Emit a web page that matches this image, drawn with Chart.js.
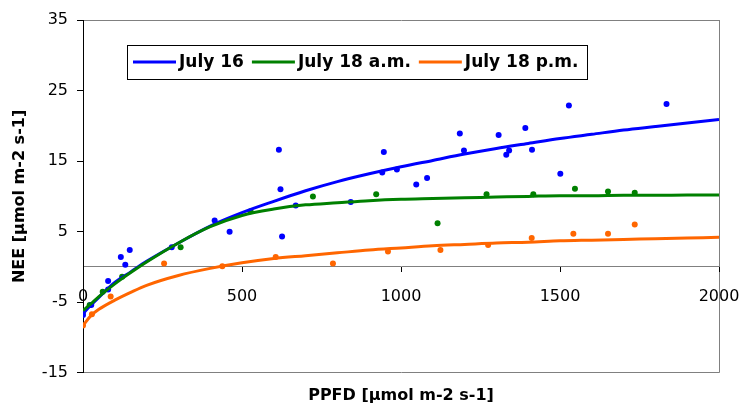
<!DOCTYPE html>
<html>
<head>
<meta charset="utf-8">
<script src="https://cdn.jsdelivr.net/npm/chart.js@4/dist/chart.umd.min.js"></script>
<style>
    body { margin: 0; background: #FFFFFF; }
    #wrap { width: 741px; height: 408px; position: relative; }
</style>
</head>
<body>
<div id="wrap"><canvas id="neeChart"></canvas></div>
<script>
// ===================================
// DATA
// ===================================

const seriesLabels = ['July 16', 'July 18 a.m.', 'July 18 p.m.'];
const seriesColors = ['#0000FF', '#008000', '#FF6600'];

// measured points
const ppfd16 = [0, 26, 79, 79, 119, 133, 147, 279, 414, 461, 616, 621, 626, 669, 842, 941, 946, 987, 1048, 1082, 1185, 1198, 1307, 1331, 1340, 1391, 1412, 1501, 1528, 1835];
const nee16 = [-6.8, -5.4, -2.0, -3.2, 1.4, 0.3, 2.4, 2.8, 6.6, 5.0, 16.6, 11.0, 4.3, 8.7, 9.2, 13.4, 16.3, 13.8, 11.7, 12.6, 18.9, 16.5, 18.7, 15.9, 16.5, 19.7, 16.6, 13.2, 22.9, 23.1];

const ppfd18am = [0, 21, 62, 123, 307, 527, 723, 922, 1115, 1269, 1416, 1547, 1651, 1735];
const nee18am = [-6.4, -5.4, -3.5, -1.4, 2.8, 7.9, 10.0, 10.3, 6.2, 10.3, 10.3, 11.1, 10.7, 10.5];

const ppfd18pm = [0, 28, 87, 255, 438, 606, 786, 959, 1124, 1274, 1411, 1542, 1651, 1735];
const nee18pm = [-8.3, -6.7, -4.2, 0.5, 0.1, 1.4, 0.5, 2.2, 2.4, 3.1, 4.1, 4.7, 4.7, 6.0];

// fitted light response curves
const fitPpfd = [0, 25, 50, 100, 150, 200, 300, 400, 500, 600, 700, 800, 900, 1000, 1100, 1200, 1300, 1400, 1500, 1600, 1700, 1800, 1900, 2000];
const fit16 = [-6.6, -5.4, -4.3, -2.2, -0.7, 0.8, 3.4, 5.8, 7.7, 9.3, 10.8, 12.1, 13.2, 14.2, 15.1, 16.0, 16.8, 17.5, 18.2, 18.8, 19.4, 19.9, 20.4, 20.9];
const fit18am = [-6.2, -5.2, -4.2, -2.4, -0.8, 0.7, 3.4, 5.7, 7.3, 8.2, 8.8, 9.1, 9.4, 9.6, 9.7, 9.8, 9.9, 10.0, 10.1, 10.1, 10.15, 10.15, 10.2, 10.2];
const fit18pm = [-8.3, -6.9, -6.0, -4.7, -3.6, -2.6, -1.2, -0.2, 0.6, 1.2, 1.6, 2.0, 2.4, 2.7, 3.0, 3.2, 3.4, 3.5, 3.7, 3.8, 3.9, 4.0, 4.1, 4.2];

const xTicks = [0, 500, 1000, 1500, 2000];
const yTicks = [-15, -5, 5, 15, 25, 35];

const frameGray = '#808080';
const fontFamily = 'DejaVu Sans';

// ===================================
// HELPERS
// ===================================

/**
 * Zip two arrays into {x, y} points
 */
function toPoints(xs, ys) {
    return xs.map((x, i) => ({ x: x, y: ys[i] }));
}

function pointSet(xs, ys, color) {
    return {
        label: '',
        data: toPoints(xs, ys),
        showLine: false,
        pointRadius: 3,
        pointBorderWidth: 0,
        pointBackgroundColor: color,
        order: 5
    };
}

function fitLine(label, ys, color, order) {
    return {
        label: label,
        data: toPoints(fitPpfd, ys),
        showLine: true,
        borderColor: color,
        borderWidth: 3,
        pointRadius: 0,
        tension: 0.3,
        cubicInterpolationMode: 'monotone',
        order: order
    };
}

// ===================================
// LEGEND INSIDE PLOT
// ===================================

const boxLegend = {
    id: 'boxLegend',
    afterDraw(chart) {
        const ctx = chart.ctx;
        const left = 127, top = 45, width = 460, height = 34;
        const midY = top + height / 2;
        ctx.save();
        ctx.fillStyle = '#FFFFFF';
        ctx.fillRect(left, top, width, height);
        ctx.strokeStyle = '#000000';
        ctx.lineWidth = 1;
        ctx.strokeRect(left + 0.5, top + 0.5, width, height);

        ctx.font = 'bold 17px ' + fontFamily;
        ctx.textBaseline = 'middle';
        ctx.textAlign = 'left';
        let x = left + 6;
        seriesLabels.forEach((label, i) => {
            ctx.strokeStyle = seriesColors[i];
            ctx.lineWidth = 3;
            ctx.beginPath();
            ctx.moveTo(x, midY);
            ctx.lineTo(x + 43, midY);
            ctx.stroke();
            x += 46;
            ctx.fillStyle = '#000000';
            ctx.fillText(label, x, midY + 1);
            x += ctx.measureText(label).width + 8;
        });
        ctx.restore();
    }
};

// ===================================
// CHART
// ===================================

const datasets = [
    pointSet(ppfd16, nee16, seriesColors[0]),
    pointSet(ppfd18am, nee18am, seriesColors[1]),
    pointSet(ppfd18pm, nee18pm, seriesColors[2]),
    fitLine(seriesLabels[0], fit16, seriesColors[0], 2),
    fitLine(seriesLabels[1], fit18am, seriesColors[1], 1),
    fitLine(seriesLabels[2], fit18pm, seriesColors[2], 0)
];

const ctx = document.getElementById('neeChart').getContext('2d');

new Chart(ctx, {
    type: 'scatter',
    data: { datasets: datasets },
    plugins: [boxLegend],
    options: {
        responsive: true,
        maintainAspectRatio: false,
        animation: false,
        layout: {
            padding: { left: 0, top: 20, right: 22, bottom: 0 }
        },
        plugins: {
            legend: { display: false },
            tooltip: { enabled: false },
            title: {
                display: true,
                position: 'bottom',
                fullSize: false,
                text: 'PPFD [µmol m-2 s-1]',
                color: '#000000',
                font: { family: fontFamily, size: 16, weight: 'bold' },
                padding: { top: 13, bottom: 3 }
            }
        },
        scales: {
            x: {
                type: 'linear',
                position: { y: 0 },
                min: 0,
                max: 2000,
                afterBuildTicks: scale => {
                    scale.ticks = xTicks.map(v => ({ value: v }));
                },
                afterFit: scale => {
                    // keep the edge labels from shrinking the plot area
                    scale.paddingLeft = 0;
                    scale.paddingRight = 0;
                },
                ticks: {
                    color: '#000000',
                    font: { family: fontFamily, size: 16 },
                    padding: 15,
                    maxRotation: 0,
                    autoSkip: false,
                    callback: value => String(value)
                },
                grid: {
                    color: c => (c.tick && c.tick.value === 2000) ? frameGray : 'rgba(0,0,0,0)',
                    tickColor: '#000000',
                    tickLength: 5,
                    lineWidth: 1
                },
                border: { color: frameGray, width: 1 }
            },
            y: {
                type: 'linear',
                position: 'left',
                min: -15,
                max: 35,
                afterBuildTicks: scale => {
                    scale.ticks = yTicks.map(v => ({ value: v }));
                },
                afterFit: scale => {
                    scale.width = 83;
                },
                ticks: {
                    color: '#000000',
                    font: { family: fontFamily, size: 16 },
                    padding: 9,
                    callback: value => String(value)
                },
                grid: {
                    color: c => (c.tick && (c.tick.value === 35 || c.tick.value === -15)) ? frameGray : 'rgba(0,0,0,0)',
                    tickColor: '#000000',
                    tickLength: 6,
                    lineWidth: 1
                },
                border: { color: '#000000', width: 1 },
                title: {
                    display: true,
                    text: 'NEE [µmol m-2 s-1]',
                    color: '#000000',
                    font: { family: fontFamily, size: 16, weight: 'bold' },
                    padding: { top: 10, bottom: 0 }
                }
            }
        }
    }
});
</script>
</body>
</html>
